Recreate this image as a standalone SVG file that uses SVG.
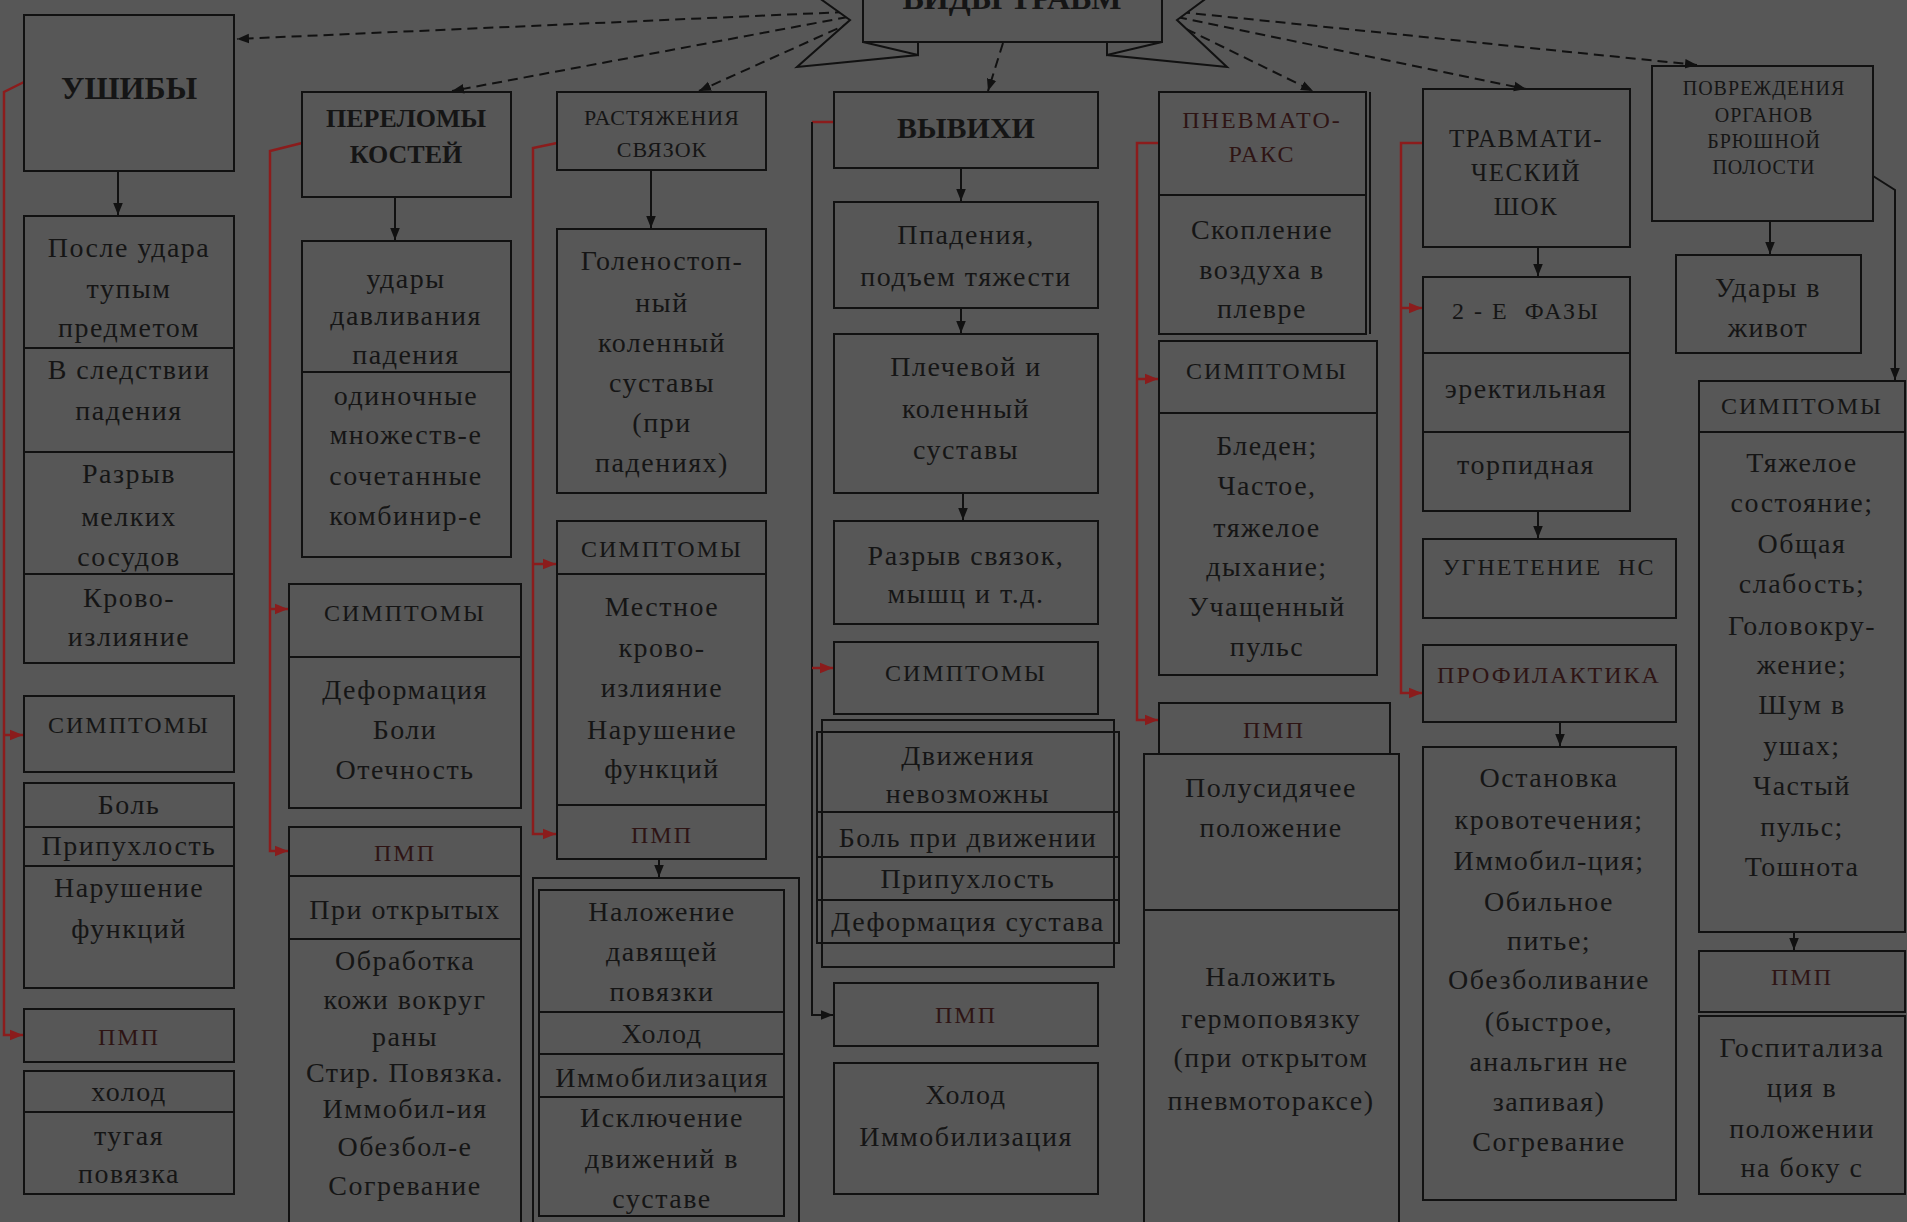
<svg xmlns="http://www.w3.org/2000/svg" width="1907" height="1222" viewBox="0 0 1907 1222">
<defs>
<style>
.bg{fill:#575757}
.b{fill:none;stroke:#111;stroke-width:2}
.bf{fill:#575757;stroke:#111;stroke-width:2}
.t{font-family:"Liberation Serif",serif;font-size:28px;fill:#151515;text-anchor:middle;letter-spacing:1.5px}
.s{font-family:"Liberation Serif",serif;font-size:24px;fill:#151515;text-anchor:middle;letter-spacing:2px}
.p{font-family:"Liberation Serif",serif;font-size:24px;fill:#2e1414;text-anchor:middle;letter-spacing:2px}
.h{font-family:"Liberation Serif",serif;font-weight:bold;fill:#151515;text-anchor:middle}
.dash{fill:none;stroke:#111;stroke-width:2;stroke-dasharray:10 6}
.red{fill:none;stroke:#8b1c1c;stroke-width:2.5}
.blk{fill:none;stroke:#111;stroke-width:2}
</style>
<marker id="ah" viewBox="0 0 10 10" refX="10" refY="5" markerWidth="12" markerHeight="12" markerUnits="userSpaceOnUse" orient="auto"><path d="M0,1 L10,5 L0,9 z" fill="#111"/></marker>
<marker id="ar" viewBox="0 0 10 10" refX="10" refY="5" markerWidth="13" markerHeight="13" markerUnits="userSpaceOnUse" orient="auto"><path d="M0,1 L10,5 L0,9 z" fill="#8b1c1c"/></marker>
</defs>
<rect class="bg" x="0" y="0" width="1907" height="1222"/>

<g id="connectors">
<path class="dash" d="M845,12 L237,39" marker-end="url(#ah)"/>
<path class="dash" d="M848,17 L452,91" marker-end="url(#ah)"/>
<path class="dash" d="M852,22 L699,91" marker-end="url(#ah)"/>
<path class="dash" d="M1003,43 L988,91" marker-end="url(#ah)"/>
<path class="dash" d="M1172,22 L1313,91" marker-end="url(#ah)"/>
<path class="dash" d="M1177,17 L1526,89" marker-end="url(#ah)"/>
<path class="dash" d="M1180,12 L1697,65" marker-end="url(#ah)"/>

<path class="blk" d="M118,171 L118,215" marker-end="url(#ah)"/>
<path class="blk" d="M395,197 L395,240" marker-end="url(#ah)"/>
<path class="blk" d="M651,170 L651,228" marker-end="url(#ah)"/>
<path class="blk" d="M659,859 L659,877" marker-end="url(#ah)"/>
<path class="blk" d="M961,168 L961,201" marker-end="url(#ah)"/>
<path class="blk" d="M961,308 L961,333" marker-end="url(#ah)"/>
<path class="blk" d="M963,493 L963,520" marker-end="url(#ah)"/>
<path class="blk" d="M1538,247 L1538,276" marker-end="url(#ah)"/>
<path class="blk" d="M1538,511 L1538,538" marker-end="url(#ah)"/>
<path class="blk" d="M1560,722 L1560,746" marker-end="url(#ah)"/>
<path class="blk" d="M1770,221 L1770,254" marker-end="url(#ah)"/>
<path class="blk" d="M1794,932 L1794,950" marker-end="url(#ah)"/>
<path class="blk" d="M1873,176 L1895,190 L1895,380" marker-end="url(#ah)"/>

<path class="red" d="M24,82 L4,92 L4,1035 L23,1035" marker-end="url(#ar)"/>
<path class="red" d="M4,735 L23,735" marker-end="url(#ar)"/>
<path class="red" d="M302,143 L270,151 L270,851 L288,851" marker-end="url(#ar)"/>
<path class="red" d="M270,609 L288,609" marker-end="url(#ar)"/>
<path class="red" d="M557,143 L533,148 L533,834 L556,834" marker-end="url(#ar)"/>
<path class="red" d="M533,564 L556,564" marker-end="url(#ar)"/>
<path class="red" d="M834,122 L812,122"/>
<path class="blk" d="M812,122 L812,1015 L833,1015" marker-end="url(#ah)"/>
<path class="red" d="M812,668 L833,668" marker-end="url(#ar)"/>
<path class="red" d="M1159,143 L1137,143 L1137,720 L1158,720" marker-end="url(#ar)"/>
<path class="red" d="M1137,379 L1158,379" marker-end="url(#ar)"/>
<path class="red" d="M1423,143 L1401,143 L1401,693 L1422,693" marker-end="url(#ar)"/>
<path class="red" d="M1401,308 L1422,308" marker-end="url(#ar)"/>
</g>

<g id="title">
<polygon class="bf" points="918,-20 794,-20 850,20 797,67 918,55"/>
<polygon class="bf" points="1107,-20 1231,-20 1177,20 1227,67 1107,55"/>
<polyline class="b" points="863,42 918,55 918,42"/>
<polyline class="b" points="1162,42 1107,55 1107,42"/>
<rect class="bf" x="863" y="-20" width="299" height="62"/>
<text class="h" x="1012" y="9" font-size="32">ВИДЫ ТРАВМ</text>
</g>

<g id="ushiby">
<rect class="b" x="24" y="15" width="210" height="156"/>
<text class="h" x="129" y="99" font-size="32">УШИБЫ</text>
</g>
<g id="ushiby-causes">
<rect class="b" x="24" y="216" width="210" height="447"/>
<line class="b" x1="24" y1="348" x2="234" y2="348"/>
<line class="b" x1="24" y1="452" x2="234" y2="452" stroke-width="3.5"/>
<line class="b" x1="24" y1="574" x2="234" y2="574"/>
<text class="t" x="129" y="257">После удара</text>
<text class="t" x="129" y="298">тупым</text>
<text class="t" x="129" y="337">предметом</text>
<text class="t" x="129" y="379">В следствии</text>
<text class="t" x="129" y="420">падения</text>
<text class="t" x="129" y="483">Разрыв</text>
<text class="t" x="129" y="526">мелких</text>
<text class="t" x="129" y="566">сосудов</text>
<text class="t" x="129" y="607">Крово-</text>
<text class="t" x="129" y="646">излияние</text>
</g>
<g id="ushiby-symptoms">
<rect class="b" x="24" y="696" width="210" height="76"/>
<text class="s" x="129" y="733">СИМПТОМЫ</text>
</g>
<g id="ushiby-symptoms-list">
<rect class="b" x="24" y="783" width="210" height="205"/>
<line class="b" x1="24" y1="827" x2="234" y2="827"/>
<line class="b" x1="24" y1="866" x2="234" y2="866"/>
<text class="t" x="129" y="814">Боль</text>
<text class="t" x="129" y="855">Припухлость</text>
<text class="t" x="129" y="897">Нарушение</text>
<text class="t" x="129" y="938">функций</text>
</g>
<g id="ushiby-pmp">
<rect class="b" x="24" y="1009" width="210" height="53"/>
<text class="p" x="129" y="1045">ПМП</text>
</g>
<g id="ushiby-pmp-list">
<rect class="b" x="24" y="1071" width="210" height="123"/>
<line class="b" x1="24" y1="1112" x2="234" y2="1112"/>
<text class="t" x="129" y="1101">холод</text>
<text class="t" x="129" y="1145">тугая</text>
<text class="t" x="129" y="1183">повязка</text>
</g>

<g id="perelomy">
<rect class="b" x="302" y="92" width="209" height="105"/>
<text class="h" x="406" y="127" font-size="26">ПЕРЕЛОМЫ</text>
<text class="h" x="406" y="163" font-size="26">КОСТЕЙ</text>
</g>
<g id="perelomy-causes">
<rect class="b" x="302" y="241" width="209" height="316"/>
<line class="b" x1="302" y1="372" x2="511" y2="372"/>
<text class="t" x="406" y="288">удары</text>
<text class="t" x="406" y="325">давливания</text>
<text class="t" x="406" y="364">падения</text>
<text class="t" x="406" y="405">одиночные</text>
<text class="t" x="406" y="444">множеств-е</text>
<text class="t" x="406" y="485">сочетанные</text>
<text class="t" x="406" y="525">комбинир-е</text>
</g>
<g id="perelomy-symptoms">
<rect class="b" x="289" y="584" width="232" height="224"/>
<line class="b" x1="289" y1="657" x2="521" y2="657"/>
<text class="s" x="405" y="621">СИМПТОМЫ</text>
<text class="t" x="405" y="699">Деформация</text>
<text class="t" x="405" y="739">Боли</text>
<text class="t" x="405" y="779">Отечность</text>
</g>
<g id="perelomy-pmp">
<rect class="b" x="289" y="827" width="232" height="400"/>
<line class="b" x1="289" y1="876" x2="521" y2="876"/>
<line class="b" x1="289" y1="939" x2="521" y2="939"/>
<text class="p" x="405" y="861">ПМП</text>
<text class="t" x="405" y="919">При открытых</text>
<text class="t" x="405" y="970">Обработка</text>
<text class="t" x="405" y="1009">кожи вокруг</text>
<text class="t" x="405" y="1046">раны</text>
<text class="t" x="405" y="1082">Стир. Повязка.</text>
<text class="t" x="405" y="1118">Иммобил-ия</text>
<text class="t" x="405" y="1156">Обезбол-е</text>
<text class="t" x="405" y="1195">Согревание</text>
</g>

<g id="rastyazh">
<rect class="b" x="557" y="92" width="209" height="78"/>
<text class="t" x="662" y="125" style="font-size:22px;letter-spacing:1px">РАСТЯЖЕНИЯ</text>
<text class="t" x="662" y="157" style="font-size:22px;letter-spacing:1px">СВЯЗОК</text>
</g>
<g id="rastyazh-where">
<rect class="b" x="557" y="229" width="209" height="264"/>
<text class="t" x="662" y="270">Голеностоп-</text>
<text class="t" x="662" y="312">ный</text>
<text class="t" x="662" y="352">коленный</text>
<text class="t" x="662" y="392">суставы</text>
<text class="t" x="662" y="432">(при</text>
<text class="t" x="662" y="472">падениях)</text>
</g>
<g id="rastyazh-symptoms">
<rect class="b" x="557" y="521" width="209" height="338"/>
<line class="b" x1="557" y1="574" x2="766" y2="574"/>
<line class="b" x1="557" y1="805" x2="766" y2="805" stroke-width="3"/>
<text class="s" x="662" y="557">СИМПТОМЫ</text>
<text class="t" x="662" y="616">Местное</text>
<text class="t" x="662" y="657">крово-</text>
<text class="t" x="662" y="697">излияние</text>
<text class="t" x="662" y="739">Нарушение</text>
<text class="t" x="662" y="778">функций</text>
<text class="p" x="662" y="843">ПМП</text>
</g>
<g id="rastyazh-pmp">
<rect class="b" x="533" y="878" width="266" height="350"/>
<rect class="b" x="539" y="890" width="245" height="326"/>
<line class="b" x1="539" y1="1012" x2="784" y2="1012"/>
<line class="b" x1="539" y1="1054" x2="784" y2="1054"/>
<line class="b" x1="539" y1="1097" x2="784" y2="1097"/>
<text class="t" x="662" y="921">Наложение</text>
<text class="t" x="662" y="961">давящей</text>
<text class="t" x="662" y="1001">повязки</text>
<text class="t" x="662" y="1043">Холод</text>
<text class="t" x="662" y="1087">Иммобилизация</text>
<text class="t" x="662" y="1127">Исключение</text>
<text class="t" x="662" y="1168">движений в</text>
<text class="t" x="662" y="1208">суставе</text>
</g>

<g id="vyvihi">
<rect class="b" x="834" y="92" width="264" height="76"/>
<text class="h" x="966" y="138" font-size="30">ВЫВИХИ</text>
</g>
<g id="vyvihi-cause">
<rect class="b" x="834" y="202" width="264" height="106"/>
<text class="t" x="966" y="244">Ппадения,</text>
<text class="t" x="966" y="286">подъем тяжести</text>
</g>
<g id="vyvihi-joints">
<rect class="b" x="834" y="334" width="264" height="159"/>
<text class="t" x="966" y="376">Плечевой и</text>
<text class="t" x="966" y="418">коленный</text>
<text class="t" x="966" y="459">суставы</text>
</g>
<g id="vyvihi-rupture">
<rect class="b" x="834" y="521" width="264" height="103"/>
<text class="t" x="966" y="565">Разрыв связок,</text>
<text class="t" x="966" y="603">мышц и т.д.</text>
</g>
<g id="vyvihi-symptoms">
<rect class="b" x="834" y="642" width="264" height="72"/>
<text class="s" x="966" y="681">СИМПТОМЫ</text>
</g>
<g id="vyvihi-symptoms-list">
<rect class="b" x="822" y="720" width="292" height="247"/>
<rect class="b" x="817" y="732" width="302" height="211"/>
<line class="b" x1="817" y1="812" x2="1119" y2="812"/>
<line class="b" x1="817" y1="857" x2="1119" y2="857"/>
<line class="b" x1="817" y1="900" x2="1119" y2="900"/>
<text class="t" x="968" y="765">Движения</text>
<text class="t" x="968" y="803">невозможны</text>
<text class="t" x="968" y="847">Боль при движении</text>
<text class="t" x="968" y="888">Припухлость</text>
<text class="t" x="968" y="931">Деформация сустава</text>
</g>
<g id="vyvihi-pmp">
<rect class="b" x="834" y="983" width="264" height="63"/>
<text class="p" x="966" y="1023">ПМП</text>
</g>
<g id="vyvihi-pmp-list">
<rect class="b" x="834" y="1063" width="264" height="131"/>
<text class="t" x="966" y="1104">Холод</text>
<text class="t" x="966" y="1146">Иммобилизация</text>
</g>

<g id="pnevmo">
<rect class="b" x="1159" y="92" width="207" height="242"/>
<line class="b" x1="1159" y1="195" x2="1366" y2="195" stroke-width="3"/>
<line class="b" x1="1370" y1="92" x2="1370" y2="334"/>
<text class="p" x="1262" y="128">ПНЕВМАТО-</text>
<text class="p" x="1262" y="162">РАКС</text>
<text class="t" x="1262" y="239">Скопление</text>
<text class="t" x="1262" y="279">воздуха в</text>
<text class="t" x="1262" y="318">плевре</text>
</g>
<g id="pnevmo-symptoms">
<rect class="b" x="1159" y="341" width="218" height="334"/>
<line class="b" x1="1159" y1="413" x2="1377" y2="413"/>
<text class="s" x="1267" y="379">СИМПТОМЫ</text>
<text class="t" x="1267" y="455">Бледен;</text>
<text class="t" x="1267" y="495">Частое,</text>
<text class="t" x="1267" y="537">тяжелое</text>
<text class="t" x="1267" y="576">дыхание;</text>
<text class="t" x="1267" y="616">Учащенный</text>
<text class="t" x="1267" y="656">пульс</text>
</g>
<g id="pnevmo-pmp">
<rect class="b" x="1159" y="703" width="231" height="51"/>
<text class="p" x="1274" y="738">ПМП</text>
</g>
<g id="pnevmo-pmp-list">
<rect class="b" x="1144" y="754" width="255" height="470"/>
<line class="b" x1="1144" y1="910" x2="1399" y2="910" stroke-width="3"/>
<text class="t" x="1271" y="797">Полусидячее</text>
<text class="t" x="1271" y="837">положение</text>
<text class="t" x="1271" y="986">Наложить</text>
<text class="t" x="1271" y="1028">гермоповязку</text>
<text class="t" x="1271" y="1067">(при открытом</text>
<text class="t" x="1271" y="1110">пневмотораксе)</text>
</g>

<g id="shock">
<rect class="b" x="1423" y="89" width="207" height="158"/>
<text class="t" x="1526" y="147" style="font-size:25px">ТРАВМАТИ-</text>
<text class="t" x="1526" y="181" style="font-size:25px">ЧЕСКИЙ</text>
<text class="t" x="1526" y="215" style="font-size:25px">ШОК</text>
</g>
<g id="shock-phases">
<rect class="b" x="1423" y="277" width="207" height="234"/>
<line class="b" x1="1423" y1="353" x2="1630" y2="353"/>
<line class="b" x1="1423" y1="432" x2="1630" y2="432"/>
<text class="s" x="1526" y="319" xml:space="preserve">2 - Е  ФАЗЫ</text>
<text class="t" x="1526" y="398">эректильная</text>
<text class="t" x="1526" y="474">торпидная</text>
</g>
<g id="shock-ns">
<rect class="b" x="1423" y="539" width="253" height="79"/>
<text class="s" x="1549" y="575" xml:space="preserve">УГНЕТЕНИЕ  НС</text>
</g>
<g id="shock-prof">
<rect class="b" x="1423" y="645" width="253" height="77"/>
<text class="p" x="1549" y="683">ПРОФИЛАКТИКА</text>
</g>
<g id="shock-prof-list">
<rect class="b" x="1423" y="747" width="253" height="453"/>
<text class="t" x="1549" y="787">Остановка</text>
<text class="t" x="1549" y="829">кровотечения;</text>
<text class="t" x="1549" y="870">Иммобил-ция;</text>
<text class="t" x="1549" y="911">Обильное</text>
<text class="t" x="1549" y="950">питье;</text>
<text class="t" x="1549" y="989">Обезболивание</text>
<text class="t" x="1549" y="1031">(быстрое,</text>
<text class="t" x="1549" y="1071">анальгин не</text>
<text class="t" x="1549" y="1111">запивая)</text>
<text class="t" x="1549" y="1151">Согревание</text>
</g>

<g id="abdomen">
<rect class="b" x="1652" y="66" width="221" height="155"/>
<text class="s" x="1764" y="95" style="font-size:20px;letter-spacing:1px">ПОВРЕЖДЕНИЯ</text>
<text class="s" x="1764" y="122" style="font-size:20px;letter-spacing:1px">ОРГАНОВ</text>
<text class="s" x="1764" y="148" style="font-size:20px;letter-spacing:1px">БРЮШНОЙ</text>
<text class="s" x="1764" y="174" style="font-size:20px;letter-spacing:1px">ПОЛОСТИ</text>
</g>
<g id="abdomen-cause">
<rect class="b" x="1676" y="255" width="185" height="98"/>
<text class="t" x="1768" y="297">Удары в</text>
<text class="t" x="1768" y="337">живот</text>
</g>
<g id="abdomen-symptoms">
<rect class="b" x="1699" y="381" width="206" height="551"/>
<line class="b" x1="1699" y1="432" x2="1905" y2="432"/>
<text class="s" x="1802" y="414">СИМПТОМЫ</text>
<text class="t" x="1802" y="472">Тяжелое</text>
<text class="t" x="1802" y="512">состояние;</text>
<text class="t" x="1802" y="553">Общая</text>
<text class="t" x="1802" y="593">слабость;</text>
<text class="t" x="1802" y="635">Головокру-</text>
<text class="t" x="1802" y="674">жение;</text>
<text class="t" x="1802" y="714">Шум в</text>
<text class="t" x="1802" y="755">ушах;</text>
<text class="t" x="1802" y="795">Частый</text>
<text class="t" x="1802" y="836">пульс;</text>
<text class="t" x="1802" y="876">Тошнота</text>
</g>
<g id="abdomen-pmp">
<rect class="b" x="1699" y="951" width="206" height="61"/>
<text class="p" x="1802" y="985">ПМП</text>
</g>
<g id="abdomen-pmp-list">
<rect class="b" x="1699" y="1016" width="206" height="178"/>
<text class="t" x="1802" y="1057">Госпитализа</text>
<text class="t" x="1802" y="1097">ция в</text>
<text class="t" x="1802" y="1138">положении</text>
<text class="t" x="1802" y="1177">на боку с</text>
</g>
</svg>
